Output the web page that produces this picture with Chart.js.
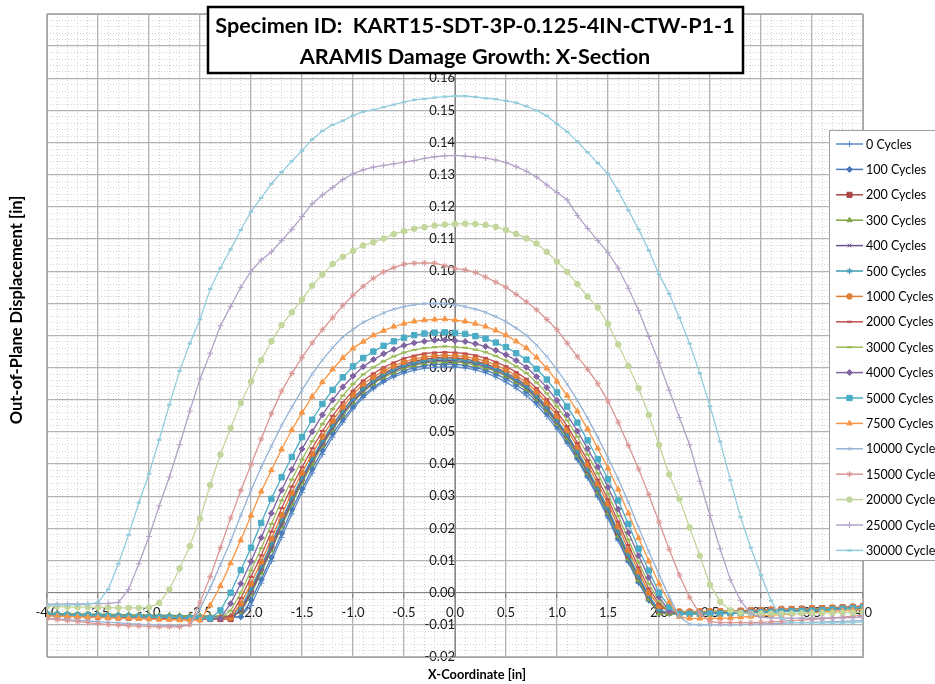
<!DOCTYPE html>
<html>
<head>
<meta charset="utf-8">
<title>ARAMIS Damage Growth: X-Section</title>
<script src="https://cdn.jsdelivr.net/npm/chart.js@4.4.1/dist/chart.umd.min.js"></script>
<style>
  html, body { margin: 0; padding: 0; background: #fff; }
  canvas { display: block; }
</style>
</head>
<body>
<canvas id="chart" width="935" height="684"></canvas>
<script>
// ── Data ──────────────────────────────────────────────────────────
const xCoord = [-4.0,-3.9,-3.8,-3.7,-3.6,-3.5,-3.4,-3.3,-3.2,-3.1,-3.0,-2.9,-2.8,-2.7,-2.6,-2.5,-2.4,-2.3,-2.2,-2.1,-2.0,-1.9,-1.8,-1.7,-1.6,-1.5,-1.4,-1.3,-1.2,-1.1,-1.0,-0.9,-0.8,-0.7,-0.6,-0.5,-0.4,-0.3,-0.2,-0.1,0.0,0.1,0.2,0.3,0.4,0.5,0.6,0.7,0.8,0.9,1.0,1.1,1.2,1.3,1.4,1.5,1.6,1.7,1.8,1.9,2.0,2.1,2.2,2.3,2.4,2.5,2.6,2.7,2.8,2.9,3.0,3.1,3.2,3.3,3.4,3.5,3.6,3.7,3.8,3.9,4.0];

const c0 = [-0.0066,-0.0067,-0.0068,-0.0069,-0.0070,-0.0070,-0.0071,-0.0072,-0.0073,-0.0073,-0.0074,-0.0075,-0.0075,-0.0076,-0.0077,-0.0077,-0.0078,-0.0078,-0.0078,
  -0.0074,-0.0040,0.0030,0.0098,0.0172,0.0245,0.0312,0.0372,0.0430,0.0484,0.0530,0.0572,0.0607,0.0634,0.0655,0.0671,0.0683,0.0692,0.0698,0.0701,0.0703,
  0.0702,0.0699,0.0693,0.0684,0.0671,0.0655,0.0636,0.0613,0.0584,0.0549,0.0509,0.0464,0.0413,0.0357,0.0297,0.0232,0.0162,0.0094,0.0030,-0.0025,-0.0060,-0.0066,
  -0.0066,-0.0066,-0.0065,-0.0065,-0.0064,-0.0063,-0.0062,-0.0061,-0.0060,-0.0059,-0.0058,-0.0057,-0.0056,-0.0055,-0.0053,-0.0051,-0.0049,-0.0047,-0.0045];
const c100 = [-0.0068,-0.0069,-0.0070,-0.0070,-0.0071,-0.0072,-0.0072,-0.0073,-0.0073,-0.0074,-0.0074,-0.0075,-0.0075,-0.0075,-0.0076,-0.0076,-0.0076,-0.0076,-0.0075,
  -0.0075,-0.0023,0.0041,0.0110,0.0185,0.0259,0.0323,0.0385,0.0442,0.0495,0.0539,0.0579,0.0614,0.0640,0.0660,0.0677,0.0690,0.0700,0.0706,0.0710,0.0711,
  0.0710,0.0707,0.0700,0.0692,0.0680,0.0666,0.0647,0.0625,0.0595,0.0559,0.0518,0.0472,0.0419,0.0363,0.0304,0.0240,0.0168,0.0099,0.0033,-0.0023,-0.0063,-0.0064,
  -0.0064,-0.0064,-0.0063,-0.0063,-0.0062,-0.0061,-0.0060,-0.0060,-0.0059,-0.0058,-0.0057,-0.0056,-0.0055,-0.0054,-0.0052,-0.0050,-0.0048,-0.0046,-0.0044];
const c200 = [-0.0070,-0.0071,-0.0072,-0.0073,-0.0074,-0.0075,-0.0076,-0.0077,-0.0078,-0.0078,-0.0079,-0.0080,-0.0080,-0.0081,-0.0081,-0.0082,-0.0082,-0.0082,
  -0.0082,-0.0055,0.0007,0.0076,0.0146,0.0221,0.0293,0.0356,0.0415,0.0467,0.0522,0.0566,0.0605,0.0637,0.0662,0.0682,0.0698,0.0711,0.0720,0.0726,0.0730,0.0731,
  0.0730,0.0727,0.0720,0.0712,0.0700,0.0685,0.0667,0.0645,0.0614,0.0578,0.0537,0.0491,0.0439,0.0382,0.0322,0.0257,0.0186,0.0113,0.0048,-0.0013,-0.0057,-0.0060,
  -0.0060,-0.0060,-0.0059,-0.0059,-0.0058,-0.0057,-0.0056,-0.0055,-0.0054,-0.0053,-0.0052,-0.0051,-0.0050,-0.0049,-0.0048,-0.0047,-0.0045,-0.0044,-0.0042];
const c300 = [-0.0064,-0.0065,-0.0065,-0.0066,-0.0066,-0.0067,-0.0067,-0.0068,-0.0068,-0.0069,-0.0069,-0.0070,-0.0070,-0.0071,-0.0071,-0.0072,-0.0072,-0.0072,-0.0072,
  -0.0060,-0.0005,0.0062,0.0131,0.0206,0.0277,0.0342,0.0401,0.0457,0.0508,0.0552,0.0592,0.0625,0.0650,0.0670,0.0685,0.0698,0.0707,0.0714,0.0718,0.0719,
  0.0718,0.0715,0.0708,0.0700,0.0688,0.0674,0.0655,0.0633,0.0603,0.0567,0.0526,0.0480,0.0428,0.0372,0.0312,0.0248,0.0177,0.0106,0.0040,-0.0019,-0.0065,-0.0066,
  -0.0066,-0.0066,-0.0066,-0.0065,-0.0065,-0.0064,-0.0063,-0.0062,-0.0061,-0.0060,-0.0059,-0.0058,-0.0057,-0.0056,-0.0055,-0.0053,-0.0051,-0.0049,-0.0047];
const c400 = [-0.0067,-0.0068,-0.0068,-0.0069,-0.0070,-0.0070,-0.0071,-0.0071,-0.0072,-0.0072,-0.0073,-0.0073,-0.0074,-0.0074,-0.0075,-0.0075,-0.0076,-0.0076,-0.0076,
  -0.0057,0.0000,0.0069,0.0137,0.0213,0.0285,0.0349,0.0410,0.0463,0.0513,0.0557,0.0596,0.0629,0.0654,0.0674,0.0690,0.0703,0.0711,0.0718,0.0722,0.0723,
  0.0722,0.0719,0.0713,0.0704,0.0692,0.0678,0.0659,0.0638,0.0607,0.0572,0.0531,0.0486,0.0434,0.0377,0.0319,0.0254,0.0184,0.0112,0.0047,-0.0013,-0.0058,-0.0063,
  -0.0063,-0.0063,-0.0063,-0.0062,-0.0062,-0.0061,-0.0060,-0.0059,-0.0058,-0.0057,-0.0056,-0.0055,-0.0054,-0.0053,-0.0052,-0.0050,-0.0048,-0.0046,-0.0044];
const c500 = [-0.0066,-0.0067,-0.0068,-0.0068,-0.0069,-0.0070,-0.0070,-0.0071,-0.0072,-0.0072,-0.0073,-0.0073,-0.0074,-0.0074,-0.0075,-0.0075,-0.0076,-0.0076,
  -0.0076,-0.0046,0.0013,0.0082,0.0153,0.0227,0.0296,0.0359,0.0419,0.0473,0.0521,0.0565,0.0603,0.0635,0.0659,0.0679,0.0694,0.0707,0.0716,0.0722,0.0726,0.0727,
  0.0726,0.0723,0.0717,0.0708,0.0696,0.0683,0.0664,0.0643,0.0613,0.0578,0.0537,0.0492,0.0440,0.0385,0.0324,0.0262,0.0190,0.0119,0.0052,-0.0009,-0.0054,-0.0062,
  -0.0062,-0.0062,-0.0062,-0.0061,-0.0061,-0.0060,-0.0059,-0.0058,-0.0057,-0.0056,-0.0055,-0.0054,-0.0053,-0.0052,-0.0051,-0.0049,-0.0047,-0.0045,-0.0043];
const c1000 = [-0.0068,-0.0069,-0.0069,-0.0070,-0.0071,-0.0071,-0.0072,-0.0073,-0.0073,-0.0074,-0.0075,-0.0075,-0.0076,-0.0076,-0.0077,-0.0077,-0.0078,-0.0078,
  -0.0078,-0.0034,0.0028,0.0096,0.0168,0.0242,0.0311,0.0373,0.0432,0.0486,0.0535,0.0578,0.0616,0.0649,0.0671,0.0690,0.0706,0.0718,0.0727,0.0733,0.0737,0.0738,
  0.0737,0.0734,0.0728,0.0720,0.0708,0.0694,0.0675,0.0655,0.0625,0.0590,0.0550,0.0506,0.0454,0.0399,0.0339,0.0277,0.0207,0.0133,0.0066,0.0000,-0.0041,-0.0058,
  -0.0058,-0.0058,-0.0058,-0.0057,-0.0057,-0.0056,-0.0056,-0.0055,-0.0054,-0.0053,-0.0052,-0.0051,-0.0050,-0.0049,-0.0048,-0.0046,-0.0045,-0.0043,-0.0041];
const c2000 = [-0.0069,-0.0070,-0.0070,-0.0071,-0.0072,-0.0072,-0.0073,-0.0073,-0.0074,-0.0075,-0.0075,-0.0076,-0.0076,-0.0077,-0.0077,-0.0078,-0.0078,-0.0078,
  -0.0073,-0.0017,0.0049,0.0116,0.0190,0.0263,0.0330,0.0390,0.0449,0.0503,0.0550,0.0592,0.0628,0.0660,0.0682,0.0701,0.0716,0.0729,0.0737,0.0744,0.0747,0.0748,
  0.0747,0.0744,0.0738,0.0730,0.0718,0.0704,0.0686,0.0665,0.0636,0.0602,0.0562,0.0518,0.0466,0.0412,0.0352,0.0291,0.0221,0.0148,0.0079,0.0013,-0.0034,-0.0060,
  -0.0060,-0.0060,-0.0060,-0.0059,-0.0059,-0.0058,-0.0057,-0.0056,-0.0055,-0.0054,-0.0053,-0.0052,-0.0051,-0.0050,-0.0049,-0.0048,-0.0046,-0.0045,-0.0043];
const c3000 = [-0.0067,-0.0068,-0.0069,-0.0069,-0.0070,-0.0071,-0.0071,-0.0072,-0.0073,-0.0073,-0.0074,-0.0075,-0.0075,-0.0076,-0.0076,-0.0077,-0.0077,-0.0078,
  -0.0056,0.0000,0.0069,0.0138,0.0214,0.0287,0.0352,0.0414,0.0471,0.0525,0.0571,0.0613,0.0649,0.0679,0.0701,0.0720,0.0735,0.0747,0.0755,0.0761,0.0764,0.0766,
  0.0764,0.0762,0.0756,0.0748,0.0736,0.0722,0.0704,0.0683,0.0654,0.0620,0.0580,0.0536,0.0485,0.0430,0.0371,0.0308,0.0239,0.0165,0.0095,0.0028,-0.0025,-0.0060,
  -0.0060,-0.0060,-0.0060,-0.0059,-0.0059,-0.0058,-0.0058,-0.0057,-0.0056,-0.0055,-0.0054,-0.0053,-0.0052,-0.0051,-0.0050,-0.0049,-0.0047,-0.0046,-0.0044];
const c4000 = [-0.0068,-0.0069,-0.0070,-0.0070,-0.0071,-0.0072,-0.0073,-0.0073,-0.0074,-0.0075,-0.0076,-0.0076,-0.0077,-0.0078,-0.0078,-0.0079,-0.0080,
  -0.0080,-0.0034,0.0028,0.0097,0.0171,0.0247,0.0319,0.0383,0.0447,0.0501,0.0553,0.0599,0.0640,0.0674,0.0703,0.0725,0.0743,0.0757,0.0769,0.0777,0.0782,0.0785,0.0786,
  0.0784,0.0781,0.0774,0.0766,0.0754,0.0740,0.0722,0.0701,0.0672,0.0638,0.0598,0.0553,0.0503,0.0448,0.0391,0.0328,0.0260,0.0187,0.0115,0.0047,-0.0013,-0.0057,
  -0.0064,-0.0064,-0.0064,-0.0063,-0.0063,-0.0062,-0.0061,-0.0060,-0.0059,-0.0058,-0.0057,-0.0056,-0.0055,-0.0054,-0.0053,-0.0051,-0.0049,-0.0047,-0.0045];
const c5000 = [-0.0068,-0.0069,-0.0070,-0.0071,-0.0071,-0.0072,-0.0073,-0.0074,-0.0074,-0.0075,-0.0076,-0.0077,-0.0077,-0.0078,-0.0079,-0.0080,
  -0.0080,-0.0055,0.0000,0.0070,0.0140,0.0217,0.0292,0.0359,0.0422,0.0484,0.0538,0.0587,0.0631,0.0670,0.0704,0.0730,0.0750,0.0768,0.0782,0.0793,0.0801,0.0806,0.0809,0.0810,
  0.0808,0.0805,0.0798,0.0790,0.0778,0.0764,0.0745,0.0725,0.0696,0.0663,0.0623,0.0579,0.0529,0.0474,0.0415,0.0353,0.0287,0.0214,0.0137,0.0069,0.0000,-0.0044,
  -0.0066,-0.0066,-0.0066,-0.0065,-0.0065,-0.0064,-0.0063,-0.0062,-0.0061,-0.0060,-0.0059,-0.0058,-0.0057,-0.0056,-0.0054,-0.0052,-0.0050,-0.0048,-0.0046];
const c7500 = [-0.0072,-0.0073,-0.0074,-0.0075,-0.0076,-0.0077,-0.0078,-0.0079,-0.0080,-0.0081,-0.0082,-0.0083,-0.0084,-0.0085,-0.0086,
  -0.0086,-0.0039,0.0021,0.0092,0.0163,0.0240,0.0315,0.0381,0.0446,0.0506,0.0560,0.0610,0.0655,0.0695,0.0730,0.0760,0.0781,0.0801,0.0815,0.0828,0.0837,0.0844,0.0848,0.0850,0.0851,
  0.0848,0.0844,0.0837,0.0828,0.0816,0.0801,0.0782,0.0761,0.0732,0.0698,0.0657,0.0613,0.0564,0.0509,0.0449,0.0387,0.0321,0.0247,0.0170,0.0098,0.0028,-0.0029,
  -0.0075,-0.0080,-0.0080,-0.0080,-0.0079,-0.0078,-0.0076,-0.0074,-0.0072,-0.0070,-0.0068,-0.0066,-0.0064,-0.0062,-0.0060,-0.0058,-0.0056,-0.0054,-0.0052];
const c10000 = [-0.0080,-0.0082,-0.0084,-0.0086,-0.0088,-0.0090,-0.0092,-0.0094,-0.0096,-0.0098,-0.0100,-0.0101,-0.0102,-0.0103,
  -0.0100,-0.0050,0.0015,0.0087,0.0160,0.0241,0.0319,0.0390,0.0456,0.0521,0.0577,0.0631,0.0680,0.0724,0.0762,0.0796,0.0819,0.0841,0.0856,0.0870,0.0882,0.0890,0.0896,0.0899,0.0900,0.0899,
  0.0896,0.0890,0.0882,0.0872,0.0859,0.0843,0.0823,0.0801,0.0770,0.0735,0.0694,0.0649,0.0598,0.0543,0.0483,0.0420,0.0354,0.0281,0.0203,0.0128,0.0057,-0.0013,
  -0.0074,-0.0098,-0.0100,-0.0100,-0.0100,-0.0100,-0.0099,-0.0098,-0.0097,-0.0096,-0.0095,-0.0094,-0.0093,-0.0092,-0.0091,-0.0090,-0.0089,-0.0088,-0.0087];
const c15000 = [-0.0081,-0.0084,-0.0087,-0.0090,-0.0093,-0.0096,-0.0099,-0.0101,-0.0103,-0.0104,-0.0105,-0.0106,-0.0106,-0.0106,
  -0.0100,-0.0030,0.0050,0.0140,0.0232,0.0318,0.0398,0.0478,0.0557,0.0627,0.0682,0.0732,0.0777,0.0818,0.0855,0.0893,0.0925,0.0953,0.0978,0.0998,0.1011,0.1022,0.1025,0.1026,0.1025,0.1017,
  0.1008,0.1004,0.0996,0.0982,0.0966,0.0950,0.0928,0.0905,0.0880,0.0850,0.0818,0.0776,0.0734,0.0695,0.0650,0.0596,0.0530,0.0458,0.0385,0.0305,0.0220,0.0135,0.0055,-0.0015,-0.0065,-0.0090,
  -0.0093,-0.0093,-0.0093,-0.0093,-0.0092,-0.0091,-0.0089,-0.0087,-0.0085,-0.0083,-0.0081,-0.0078,-0.0076,-0.0073,-0.0070];
const c20000 = [-0.0042,-0.0043,-0.0044,-0.0045,-0.0045,-0.0046,-0.0046,-0.0047,-0.0047,-0.0047,-0.0046,
  -0.0032,0.0010,0.0075,0.0145,0.0230,0.0335,0.0430,0.0512,0.0590,0.0657,0.0723,0.0782,0.0832,0.0872,0.0912,0.0955,0.0990,0.1022,0.1045,0.1063,0.1080,0.1090,0.1102,0.1115,0.1125,0.1132,0.1137,0.1142,0.1145,
  0.1147,0.1148,0.1147,0.1144,0.1138,0.1128,0.1116,0.1102,0.1086,0.1060,0.1030,0.0998,0.0960,0.0921,0.0887,0.0836,0.0772,0.0705,0.0636,0.0553,0.0460,0.0368,0.0292,0.0203,0.0115,0.0025,
  -0.0028,-0.0055,-0.0063,-0.0065,-0.0065,-0.0065,-0.0065,-0.0065,-0.0064,-0.0064,-0.0063,-0.0063,-0.0062,-0.0062,-0.0061];
const c25000 = [-0.0036,-0.0036,-0.0035,-0.0035,-0.0034,-0.0034,-0.0033,-0.0030,
  0.0010,0.0090,0.0175,0.0270,0.0360,0.0460,0.0565,0.0665,0.0745,0.0830,0.0890,0.0950,0.1000,0.1035,0.1060,0.1095,0.1130,0.1170,0.1210,0.1237,
  0.1260,0.1285,0.1303,0.1315,0.1324,0.1329,0.1334,0.1339,0.1344,0.1351,0.1356,0.1359,
  0.1360,0.1358,0.1355,0.1352,0.1346,0.1338,0.1325,0.1311,0.1293,0.1268,0.1245,0.1222,0.1173,0.1133,0.1095,0.1058,0.1010,0.0947,0.0878,0.0797,
  0.0715,0.0630,0.0545,0.0460,0.0347,0.0240,0.0136,0.0040,-0.0025,-0.0065,
  -0.0076,-0.0078,-0.0078,-0.0079,-0.0079,-0.0079,-0.0079,-0.0078,-0.0078,-0.0077,-0.0076];
const c30000 = [-0.0038,-0.0038,-0.0037,-0.0037,-0.0036,-0.0030,
  0.0010,0.0090,0.0180,0.0280,0.0370,0.0475,0.0585,0.0690,0.0775,0.0850,0.0945,0.1010,0.1068,0.1128,0.1185,0.1228,0.1272,0.1308,0.1342,0.1375,
  0.1410,0.1436,0.1455,0.1468,0.1484,0.1496,0.1502,0.1510,0.1518,0.1526,0.1533,0.1536,0.1540,0.1543,
  0.1545,0.1545,0.1542,0.1538,0.1535,0.1530,0.1524,0.1513,0.1500,0.1483,0.1458,0.1434,0.1403,0.1370,0.1336,0.1303,0.1250,0.1190,0.1130,0.1065,
  0.0990,0.0930,0.0855,0.0775,0.0683,0.0580,0.0470,0.0350,0.0235,0.0140,
  0.0055,-0.0025,-0.0080,-0.0092,-0.0093,-0.0094,-0.0094,-0.0094,-0.0094,-0.0093,-0.0091];

const seriesLabels = ['0 Cycles','100 Cycles','200 Cycles','300 Cycles','400 Cycles','500 Cycles','1000 Cycles','2000 Cycles','3000 Cycles','4000 Cycles','5000 Cycles','7500 Cycles','10000 Cycles','15000 Cycles','20000 Cycles','25000 Cycles','30000 Cycles'];
const seriesValues = [c0, c100, c200, c300, c400, c500, c1000, c2000, c3000, c4000, c5000, c7500, c10000, c15000, c20000, c25000, c30000];

// ── Styling (Excel 2007 palette) ──────────────────────────────────
const seriesColors = ['#5B8AC9','#4A7AB8','#A94543','#7FA345','#6C5592','#3F9AB4','#E07F38','#C0504D','#9BBB59','#8064A2','#4BACC6','#F79646','#95B3D7','#D99694','#C3D69B','#B3A2C7','#93CDDD'];
const seriesMarkers = ['cross','rectRot','rect','triangle','crossRot','star','circle','line','line','rectRot','rect','triangle','crossRot','star','circle','cross','line'];
const markerSizes = [3, 3, 3.6, 3, 2.5, 3, 2.8, 2.5, 2.5, 3, 3.8, 3.2, 2.5, 3, 2.8, 3, 2.2];

const FONT = 'Lato, "Liberation Sans", sans-serif';

function isMajor(v, step) {
  const r = v / step;
  return Math.abs(r - Math.round(r)) < 1e-6;
}

const datasets = seriesValues.map((vals, i) => ({
  label: seriesLabels[i],
  data: vals.map((y, k) => ({ x: xCoord[k], y })),
  borderColor: seriesColors[i],
  backgroundColor: seriesColors[i],
  borderWidth: 1.3,
  pointStyle: seriesMarkers[i],
  pointRadius: markerSizes[i],
  pointBorderWidth: seriesMarkers[i] === 'line' ? 2.2 : 1,
  pointHoverRadius: markerSizes[i],
  tension: 0,
  order: seriesValues.length - i
}));

// ── Plot frame + title / legend / axis titles ─────────────────────
const framePlugin = {
  id: 'frame',
  beforeDatasetsDraw(chart) {
    const { ctx, chartArea: a } = chart;
    ctx.save();
    ctx.strokeStyle = '#a6a6a6';
    ctx.lineWidth = 1;
    ctx.strokeRect(Math.round(a.left) + 0.5, Math.round(a.top) + 0.5,
      Math.round(a.right - a.left), Math.round(a.bottom - a.top));
    ctx.restore();
  }
};

function fitFont(ctx, text, weight, target) {
  ctx.font = `${weight} 20px ${FONT}`;
  const w = ctx.measureText(text).width;
  return 20 * target / w;
}

const decorPlugin = {
  id: 'decor',
  afterDraw(chart) {
    const ctx = chart.ctx;
    ctx.save();

    // title box
    ctx.fillStyle = '#fff';
    ctx.fillRect(208, 7, 535, 66);
    ctx.strokeStyle = '#000';
    ctx.lineWidth = 2.5;
    ctx.strokeRect(208, 7, 535, 66);
    const t1 = 'Specimen ID:  KART15-SDT-3P-0.125-4IN-CTW-P1-1';
    const t2 = 'ARAMIS Damage Growth: X-Section';
    const ts = fitFont(ctx, t1, 'bold', 520);
    ctx.font = `bold ${ts}px ${FONT}`;
    ctx.fillStyle = '#000';
    ctx.textAlign = 'center';
    ctx.textBaseline = 'alphabetic';
    ctx.fillText(t1, 475, 33);
    ctx.fillText(t2, 475, 63.5);

    // axis titles
    const xs = fitFont(ctx, 'X-Coordinate [in]', 'bold', 98);
    ctx.font = `bold ${xs}px ${FONT}`;
    ctx.textBaseline = 'middle';
    ctx.fillText('X-Coordinate [in]', 477, 675);
    const yt = 'Out-of-Plane Displacement [in]';
    const ys = fitFont(ctx, yt, 'bold', 229);
    ctx.save();
    ctx.translate(17, 310);
    ctx.rotate(-Math.PI / 2);
    ctx.font = `bold ${ys}px ${FONT}`;
    ctx.fillText(yt, 0, 0);
    ctx.restore();

    // legend
    const lx = 829.5, ly = 130.5;
    ctx.fillStyle = '#fff';
    ctx.fillRect(lx, ly, 120, 430);
    ctx.strokeStyle = '#a0a0a0';
    ctx.lineWidth = 1;
    ctx.strokeRect(lx, ly, 120, 430);
    ctx.font = `12.5px ${FONT}`;
    ctx.textAlign = 'left';
    ctx.textBaseline = 'middle';
    seriesLabels.forEach((label, i) => {
      const cy = 144 + i * 25.4;
      ctx.strokeStyle = seriesColors[i];
      ctx.fillStyle = seriesColors[i];
      ctx.lineWidth = 1.5;
      ctx.beginPath();
      ctx.moveTo(836, cy);
      ctx.lineTo(863, cy);
      ctx.stroke();
      if (Chart.helpers && Chart.helpers.drawPoint) {
        ctx.lineWidth = seriesMarkers[i] === 'line' ? 2.2 : 1;
        Chart.helpers.drawPoint(ctx, {
          pointStyle: seriesMarkers[i], radius: markerSizes[i], rotation: 0,
          borderWidth: ctx.lineWidth
        }, 849.5, cy);
      }
      ctx.fillStyle = '#000';
      ctx.fillText(label, 866, cy + 0.5);
    });
    ctx.restore();
  }
};

// ── Chart ─────────────────────────────────────────────────────────
const majorGrid = '#b3b3b3';
const minorGrid = '#d3d3d3';

new Chart(document.getElementById('chart'), {
  type: 'line',
  data: { datasets },
  options: {
    responsive: false,
    animation: false,
    events: [],
    layout: { padding: { left: 47, right: 72, top: 14, bottom: 27 } },
    plugins: { legend: { display: false }, title: { display: false }, tooltip: { enabled: false } },
    scales: {
      x: {
        type: 'linear', min: -4, max: 4,
        position: { y: 0 },
        ticks: {
          stepSize: 0.1, autoSkip: false, maxRotation: 0, padding: 7,
          color: '#1a1a1a', font: { family: FONT, size: 13 },
          callback: v => isMajor(v, 0.5) ? v.toFixed(1) : ''
        },
        grid: {
          color: c => (c.tick && isMajor(c.tick.value, 0.5)) ? majorGrid : minorGrid,
          lineWidth: c => (c.tick && isMajor(c.tick.value, 0.5)) ? 1.3 : 1,
          tickLength: 5,
          tickColor: c => (c.tick && isMajor(c.tick.value, 0.5)) ? '#868686' : 'rgba(0,0,0,0)'
        },
        border: {
          color: '#868686', width: 1,
          dash: c => (c.tick && !isMajor(c.tick.value, 0.5)) ? [1, 2] : []
        }
      },
      y: {
        type: 'linear', min: -0.02, max: 0.18,
        position: { x: 0 },
        ticks: {
          stepSize: 0.002, autoSkip: false, padding: 6,
          color: '#1a1a1a', font: { family: FONT, size: 13 },
          callback: v => (isMajor(v, 0.01) && v < 0.165) ? v.toFixed(2) : ''
        },
        grid: {
          color: c => (c.tick && isMajor(c.tick.value, 0.01)) ? majorGrid : minorGrid,
          lineWidth: c => (c.tick && isMajor(c.tick.value, 0.01)) ? 1.3 : 1,
          tickLength: 5,
          tickColor: c => (c.tick && isMajor(c.tick.value, 0.01)) ? '#868686' : 'rgba(0,0,0,0)'
        },
        border: {
          color: '#868686', width: 1,
          dash: c => (c.tick && !isMajor(c.tick.value, 0.01)) ? [1, 2] : []
        }
      }
    }
  },
  plugins: [framePlugin, decorPlugin]
});
</script>
</body>
</html>
